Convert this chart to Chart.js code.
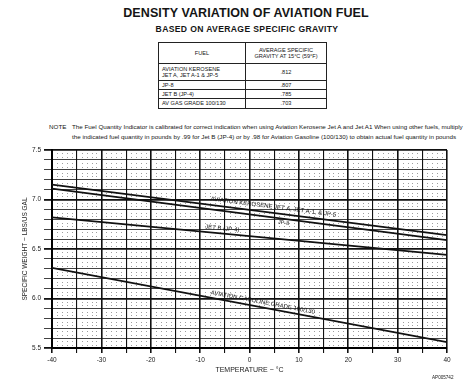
<!DOCTYPE html>
<html>
<head>
<meta charset="utf-8">
<script src="https://cdn.jsdelivr.net/npm/chart.js@4"></script>
<style>
  body { margin: 0; background: #fff; }
  #page { position: relative; width: 474px; height: 387px; font-family: 'Liberation Sans', Arial, sans-serif; color: #151515; overflow: hidden; }
  .abs { position: absolute; white-space: nowrap; }
  #title { left: 9px; width: 474px; top: 6px; text-align: center; font-weight: bold; font-size: 12.5px; letter-spacing: 0.1px; }
  #subtitle { left: 0; width: 494px; top: 24px; text-align: center; font-weight: bold; font-size: 8.6px; letter-spacing: 0.35px; }
  #fuelTable { position: absolute; left: 158px; top: 42px; width: 169px; border-collapse: collapse; font-size: 5.6px; line-height: 1.15; }
  #fuelTable td { border: 1px solid #222; padding: 0 3px; }
  #fuelTable td.v { text-align: center; }
  #note { left: 49px; top: 122px; font-size: 6.25px; line-height: 9.5px; }
  #note span { display: inline-block; width: 23px; }
  #code { left: 432px; top: 375px; font-size: 4.6px; }
  #chartBox { position: absolute; left: 0; top: 140px; width: 474px; height: 247px; }
</style>
</head>
<body>
<div id="page">
  <div class="abs" id="title">DENSITY VARIATION OF AVIATION FUEL</div>
  <div class="abs" id="subtitle">BASED ON AVERAGE SPECIFIC GRAVITY</div>
  <table id="fuelTable">
    <tr style="height:21px"><td class="v" style="width:80px">FUEL</td><td class="v">AVERAGE SPECIFIC<br>GRAVITY AT 15°C (59°F)</td></tr>
    <tr style="height:17px"><td>AVIATION KEROSENE<br>JET A, JET A-1 &amp; JP-5</td><td class="v" id="sg0"></td></tr>
    <tr style="height:9px"><td>JP-8</td><td class="v" id="sg1"></td></tr>
    <tr style="height:9px"><td>JET B (JP-4)</td><td class="v" id="sg2"></td></tr>
    <tr style="height:10px"><td>AV GAS GRADE 100/130</td><td class="v" id="sg3"></td></tr>
  </table>
  <div class="abs" id="note"><span>NOTE</span>The Fuel Quantity Indicator is calibrated for correct indication when using Aviation Kerosene Jet A and Jet A1  When using other fuels, multiply<br><span></span>the indicated fuel quantity in pounds by .99 for Jet B (JP-4) or by .98 for Aviation Gasoline (100/130) to obtain actual fuel quantity in pounds</div>
  <div id="chartBox"><canvas id="densityChart"></canvas></div>
  <div class="abs" id="code">AP005742</div>
</div>
<script>
// Temperature end points of each line (deg C)
const temps = [-40, 40];

// Specific weight in lbs/US gal
const kerosene = [7.15, 6.64];
const jp8 = [7.11, 6.59];
const jetB = [6.82, 6.44];
const avgas = [6.31, 5.56];

// Table values
const fuelNames = ['AVIATION KEROSENE JET A, JET A-1 & JP-5', 'JP-8', 'JET B (JP-4)', 'AV GAS GRADE 100/130'];
const specificGravity = ['.812', '.807', '.785', '.703'];

specificGravity.forEach((sg, i) => {
    document.getElementById('sg' + i).textContent = sg;
});

const series = [kerosene, jp8, jetB, avgas];

// Labels written along the lines: dataset, temperature of label centre, offset from line (px)
const lineLabels = [
    { ds: 0, at: 4.7, off: -6, text: 'AVIATION KEROSENE JET A, JET A-1, & JP-5', size: 6 },
    { ds: 1, at: 7, off: 4, text: 'JP-8', size: 5.5 },
    { ds: 2, at: -5.6, off: -5, text: 'JET B (JP-4)', size: 6 },
    { ds: 3, at: 2.5, off: -5, text: 'AVIATION GASOLINE GRADE 100/130', size: 6 }
];

function isHalf(v) {
    return Math.abs(v * 2 - Math.round(v * 2)) < 1e-6;
}

// Graph paper dots between grid lines
const paperDots = {
    id: 'paperDots',
    beforeDatasetsDraw(chart) {
        const { ctx, scales: { x, y } } = chart;
        ctx.save();
        ctx.fillStyle = 'rgba(40,40,40,0.45)';
        for (let t = -40; t <= 40; t++) {
            if (t % 5 === 0) continue;
            const px = Math.round(x.getPixelForValue(t));
            for (let k = 0; k < 20; k++) {
                [0.033, 0.067].forEach(f => {
                    const py = Math.round(y.getPixelForValue(5.5 + k * 0.1 + f));
                    ctx.fillRect(px, py, 1, 1);
                });
            }
        }
        ctx.restore();
    }
};

// Text written along each line
const lineText = {
    id: 'lineText',
    afterDatasetsDraw(chart) {
        const { ctx, scales: { x, y } } = chart;
        ctx.save();
        ctx.fillStyle = '#151515';
        ctx.textAlign = 'center';
        ctx.textBaseline = 'middle';
        lineLabels.forEach(lb => {
            const vals = series[lb.ds];
            const x0 = x.getPixelForValue(temps[0]), y0 = y.getPixelForValue(vals[0]);
            const x1 = x.getPixelForValue(temps[1]), y1 = y.getPixelForValue(vals[1]);
            const ang = Math.atan2(y1 - y0, x1 - x0);
            const v = vals[0] + (vals[1] - vals[0]) * (lb.at - temps[0]) / (temps[1] - temps[0]);
            const px = x.getPixelForValue(lb.at), py = y.getPixelForValue(v);
            ctx.save();
            ctx.translate(px, py);
            ctx.rotate(ang);
            ctx.font = lb.size + 'px "Liberation Sans", Arial, sans-serif';
            ctx.fillText(lb.text, 0, lb.off);
            ctx.restore();
        });
        ctx.restore();
    }
};

const ctx = document.getElementById('densityChart').getContext('2d');
const densityChart = new Chart(ctx, {
    type: 'line',
    data: {
        datasets: series.map((vals, i) => ({
            label: fuelNames[i],
            data: temps.map((t, j) => ({ x: t, y: vals[j] })),
            borderColor: '#111',
            borderWidth: 1.8,
            pointRadius: 0,
            fill: false,
            tension: 0
        }))
    },
    options: {
        responsive: true,
        maintainAspectRatio: false,
        animation: false,
        devicePixelRatio: 1,
        layout: { padding: { top: 10, right: 27, left: 0, bottom: 0 } },
        plugins: {
            legend: { display: false },
            tooltip: { enabled: false }
        },
        scales: {
            x: {
                type: 'linear',
                min: -40,
                max: 40,
                afterFit: scale => { scale.height = 39; },
                ticks: {
                    stepSize: 5,
                    autoSkip: false,
                    maxRotation: 0,
                    padding: 3,
                    color: '#222',
                    font: { family: 'Liberation Sans', size: 6.5 },
                    callback: v => (v % 10 === 0 ? String(v) : '')
                },
                grid: {
                    color: '#111',
                    lineWidth: c => (c.tick && c.tick.value % 10 === 0 ? 1.6 : 1.1),
                    tickLength: 5
                },
                border: { color: '#000', width: 2 },
                title: {
                    display: true,
                    text: 'TEMPERATURE ~ °C',
                    color: '#222',
                    font: { family: 'Liberation Sans', size: 7 },
                    padding: { top: 0, bottom: 13 }
                }
            },
            y: {
                min: 5.5,
                max: 7.5,
                afterFit: scale => { scale.width = 52; },
                ticks: {
                    stepSize: 0.1,
                    autoSkip: false,
                    padding: 3,
                    color: '#222',
                    font: { family: 'Liberation Sans', size: 6.5 },
                    callback: v => (isHalf(v) ? v.toFixed(1) : '')
                },
                grid: {
                    color: '#111',
                    lineWidth: c => (c.tick && isHalf(c.tick.value) ? 1.8 : 0.8),
                    tickLength: 8
                },
                border: { color: '#000', width: 2 },
                title: {
                    display: true,
                    text: 'SPECIFIC WEIGHT ~ LBS/US GAL',
                    color: '#222',
                    font: { family: 'Liberation Sans', size: 6.5 },
                    padding: { top: 21, bottom: 0 }
                }
            }
        }
    },
    plugins: [paperDots, lineText]
});
</script>
</body>
</html>
